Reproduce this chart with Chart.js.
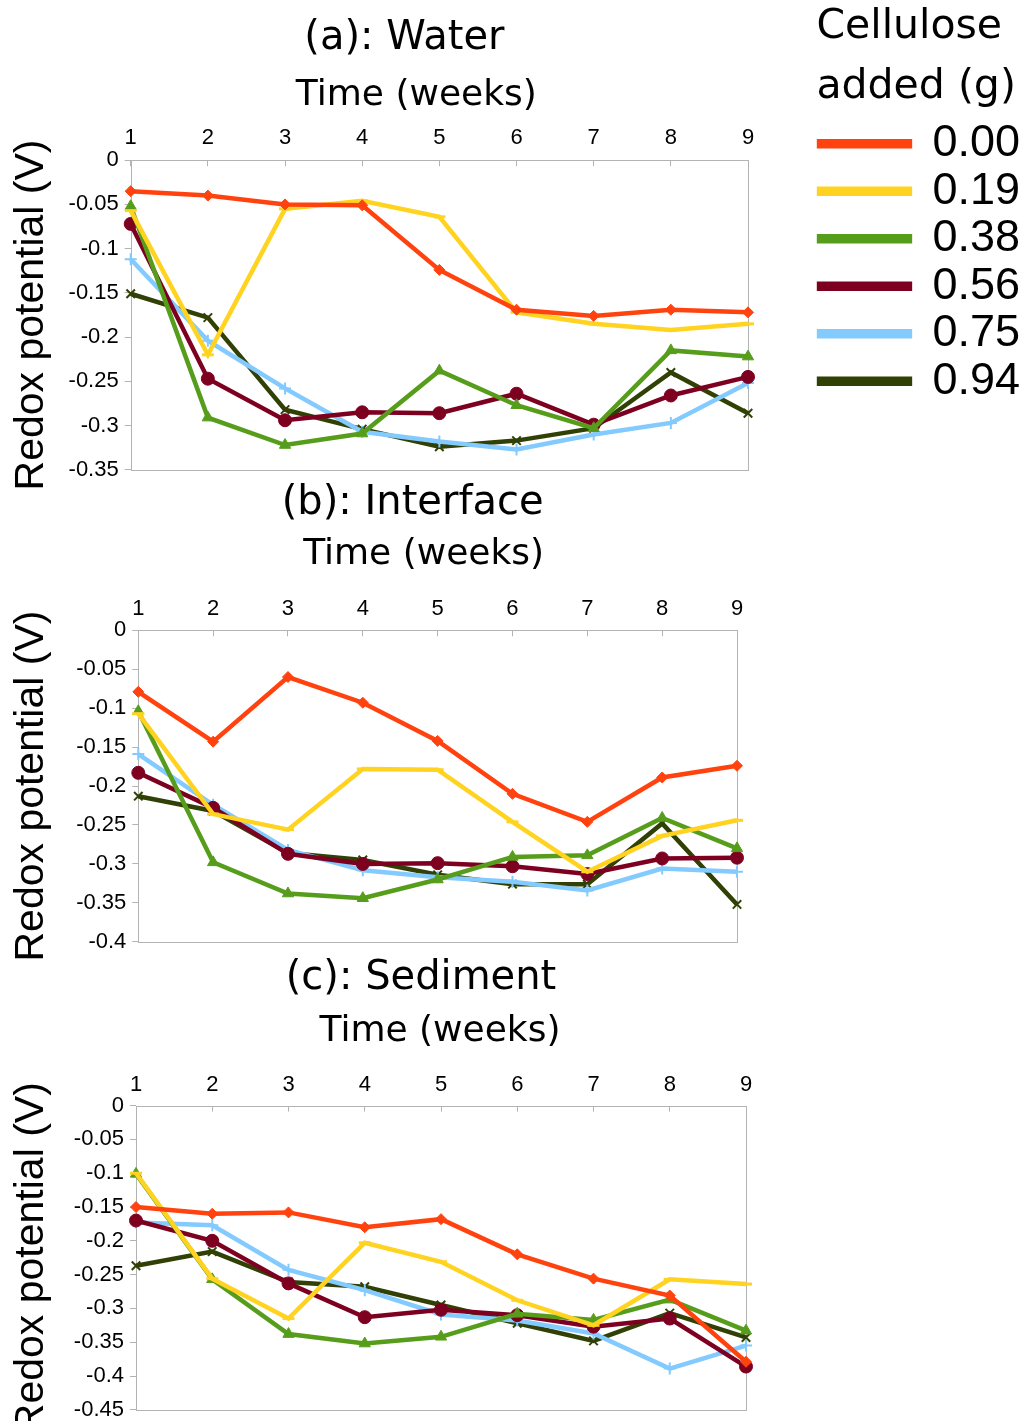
<!DOCTYPE html>
<html>
<head>
<meta charset="utf-8">
<title>Redox potential</title>
<script src="https://cdn.jsdelivr.net/npm/chart.js@4.4.1/dist/chart.umd.min.js"></script>
<style>
  html, body { margin: 0; padding: 0; background: #fff; }
  #wrap { position: relative; width: 1030px; height: 1421px; overflow: hidden; }
  canvas { position: absolute; left: 0; }
</style>
</head>
<body>
<div id="wrap">
  <canvas id="water" width="1030" height="489" style="top:0"></canvas>
  <canvas id="interface" width="1030" height="491" style="top:470px"></canvas>
  <canvas id="sediment" width="1030" height="489" style="top:940px"></canvas>
</div>
<script>
// time axis and cellulose doses
const weeks = ['1', '2', '3', '4', '5', '6', '7', '8', '9'];
const doses = ['0.00', '0.19', '0.38', '0.56', '0.75', '0.94'];

// redox potential (V) in the water layer
const water000 = [-0.035, -0.040, -0.050, -0.051, -0.124, -0.169, -0.176, -0.169, -0.172];
const water019 = [-0.057, -0.220, -0.055, -0.046, -0.064, -0.172, -0.185, -0.192, -0.185];
const water038 = [-0.052, -0.291, -0.322, -0.309, -0.238, -0.277, -0.303, -0.215, -0.222];
const water056 = [-0.072, -0.247, -0.294, -0.285, -0.286, -0.264, -0.299, -0.266, -0.245];
const water075 = [-0.112, -0.204, -0.258, -0.307, -0.318, -0.327, -0.310, -0.297, -0.252];
const water094 = [-0.151, -0.178, -0.282, -0.304, -0.324, -0.317, -0.303, -0.240, -0.286];

// at the sediment-water interface
const inter000 = [-0.079, -0.143, -0.060, -0.093, -0.142, -0.210, -0.246, -0.189, -0.174];
const inter019 = [-0.107, -0.236, -0.256, -0.178, -0.179, -0.246, -0.310, -0.264, -0.244];
const inter038 = [-0.104, -0.298, -0.338, -0.344, -0.320, -0.291, -0.289, -0.241, -0.280];
const inter056 = [-0.183, -0.228, -0.287, -0.300, -0.299, -0.303, -0.313, -0.293, -0.292];
const inter075 = [-0.159, -0.224, -0.282, -0.308, -0.317, -0.323, -0.334, -0.306, -0.310];
const inter094 = [-0.213, -0.232, -0.286, -0.295, -0.314, -0.326, -0.326, -0.248, -0.352];

// in the sediment
const sed000 = [-0.150, -0.160, -0.158, -0.180, -0.168, -0.220, -0.256, -0.281, -0.379];
const sed019 = [-0.100, -0.256, -0.315, -0.203, -0.231, -0.288, -0.325, -0.257, -0.264];
const sed038 = [-0.101, -0.257, -0.338, -0.352, -0.342, -0.308, -0.317, -0.287, -0.333];
const sed056 = [-0.170, -0.200, -0.263, -0.313, -0.302, -0.310, -0.327, -0.315, -0.386];
const sed075 = [-0.173, -0.177, -0.243, -0.273, -0.309, -0.318, -0.337, -0.389, -0.355];
const sed094 = [-0.237, -0.216, -0.261, -0.268, -0.295, -0.322, -0.348, -0.307, -0.343];

// y axis bottoms (top is always 0) and tick step
const waterMin = -0.35;
const interMin = -0.4;
const sedMin = -0.45;
const yStep = 0.05;

const colors = ['#ff420e', '#ffd320', '#579d1c', '#7e0021', '#83caff', '#314004'];
const markers = ['rectRot', 'line', 'triangle', 'circle', 'cross', 'crossRot'];
const markerRadius = [5.5, 6, 6.5, 6.5, 6, 6];
const markerWidth = [1, 3, 1, 1, 2, 2];
const frameColor = '#b3b3b3';
const wordFont = "'DejaVu Sans', Verdana, sans-serif";

Chart.defaults.font.family = "'Liberation Sans', Arial, sans-serif";
Chart.defaults.color = '#000';

// grey box around the plot area, under the lines
const frame = {
  id: 'frame',
  beforeDatasetsDraw(chart) {
    const { ctx, chartArea: a } = chart;
    ctx.save();
    ctx.strokeStyle = frameColor;
    ctx.lineWidth = 1;
    ctx.strokeRect(Math.round(a.left) + 0.5, Math.round(a.top) + 0.5,
      Math.round(a.right - a.left), Math.round(a.bottom - a.top));
    ctx.restore();
  }
};

// slide title, subtitle and legend sideways after layout
const nudge = {
  id: 'nudge',
  afterLayout(chart, args, opts) {
    const move = (box, dx) => {
      if (box && dx) { box.left += dx; box.right += dx; }
    };
    const title = chart.titleBlock;
    move(title, opts.title);
    move(chart.legend, opts.legend);
    if (title) {
      const sub = chart.boxes.find(b => b !== title && b instanceof title.constructor);
      move(sub, opts.subtitle);
    }
  }
};

function panel(id, heading, series, yMin, box, legend) {
  const datasets = series.map((values, i) => ({
    label: doses[i],
    data: values,
    yAxisID: 'y',
    borderColor: colors[i],
    backgroundColor: colors[i],
    pointBackgroundColor: colors[i],
    pointBorderColor: colors[i],
    pointStyle: markers[i],
    pointRadius: markerRadius[i],
    pointBorderWidth: markerWidth[i],
    borderWidth: 4.5,
    tension: 0,
    clip: false
  }));

  return new Chart(document.getElementById(id), {
    type: 'line',
    data: { labels: weeks, datasets: datasets },
    options: {
      responsive: false,
      animation: false,
      events: [],
      layout: { padding: { left: 0, top: 0, right: box.padRight, bottom: 0 } },
      scales: {
        x: {
          position: 'top',
          grid: { drawOnChartArea: false, tickLength: -6, color: frameColor },
          border: { display: false },
          ticks: { font: { size: 22 }, padding: box.tickPad, maxRotation: 0, autoSkip: false },
          afterFit: s => { s.height = box.xHeight; }
        },
        y: {
          min: yMin,
          max: 0,
          grid: { drawOnChartArea: false, tickLength: 6, color: frameColor },
          border: { display: false },
          ticks: {
            stepSize: yStep,
            autoSkip: false,
            font: { size: 22 },
            padding: 6,
            callback: v => String(Number(v.toFixed(2)))
          },
          title: {
            display: true,
            text: 'Redox potential (V)',
            font: { size: 41 },
            padding: { top: 7, bottom: 0 }
          },
          afterFit: s => { s.width = box.yWidth; }
        }
      },
      plugins: {
        title: {
          display: true,
          text: heading,
          fullSize: false,
          font: { family: wordFont, size: 40, weight: 'normal' },
          padding: { top: box.titleTop, bottom: 0 }
        },
        subtitle: {
          display: true,
          text: 'Time (weeks)',
          fullSize: false,
          font: { family: wordFont, size: 36 },
          padding: { top: box.subTop, bottom: 0 }
        },
        legend: legend || { display: false },
        tooltip: { enabled: false },
        nudge: { title: box.titleDx, subtitle: box.subDx, legend: box.legendDx || 0 }
      }
    },
    plugins: [frame, nudge]
  });
}

const doseLegend = {
  display: true,
  position: 'right',
  align: 'start',
  title: {
    display: true,
    text: ['Cellulose', 'added (g)'],
    position: 'start',
    font: { family: wordFont, size: 41, lineHeight: 1.46 },
    padding: { top: 7, bottom: 52 }
  },
  labels: { boxWidth: 91, boxHeight: 5, padding: 2.5, font: { size: 45 } }
};

panel('water', '(a): Water',
  [water000, water019, water038, water056, water075, water094], waterMin,
  { yWidth: 130.7, padRight: 68.4, titleTop: 15, subTop: 11.4, xHeight: 42.6,
    tickPad: 14.8, titleDx: -35, subDx: -23, legendDx: 68.4 },
  doseLegend);

panel('interface', '(b): Interface',
  [inter000, inter019, inter038, inter056, inter075, inter094], interMin,
  { yWidth: 138.3, padRight: 293, titleTop: 9.7, subTop: 5.2, xHeight: 54.2,
    tickPad: 14, titleDx: -25, subDx: -14 });

panel('sediment', '(c): Sediment',
  [sed000, sed019, sed038, sed056, sed075, sed094], sedMin,
  { yWidth: 136, padRight: 284, titleTop: 14.5, subTop: 7.9, xHeight: 52,
    tickPad: 13.3, titleDx: -20, subDx: -1 });
</script>
</body>
</html>
